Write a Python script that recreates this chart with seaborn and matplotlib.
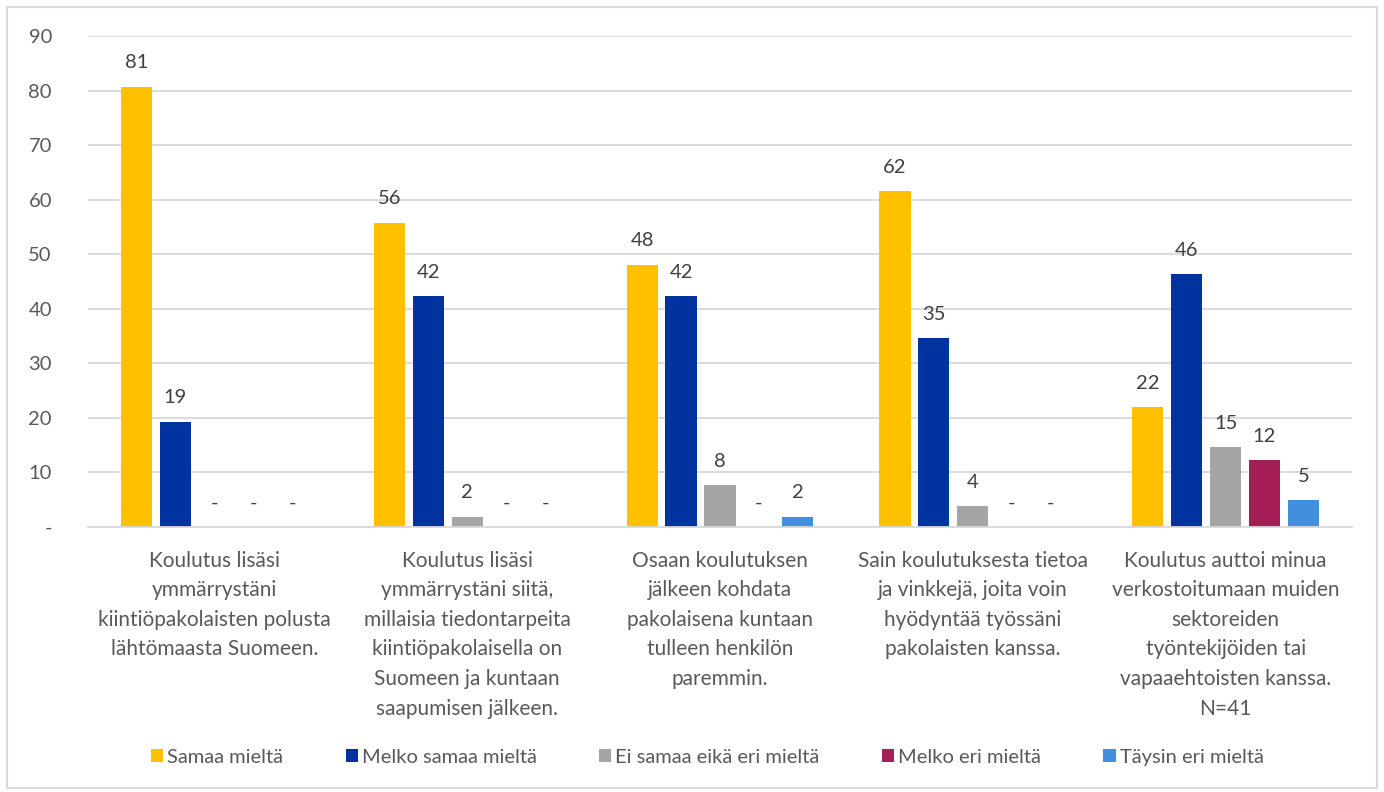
import matplotlib
matplotlib.use("Agg")
import matplotlib.pyplot as plt
import seaborn as sns
import pandas as pd
from matplotlib.patches import Rectangle

categories = [
    "Koulutus lisäsi\nymmärrystäni\nkiintiöpakolaisten polusta\nlähtömaasta Suomeen.",
    "Koulutus lisäsi\nymmärrystäni siitä,\nmillaisia tiedontarpeita\nkiintiöpakolaisella on\nSuomeen ja kuntaan\nsaapumisen jälkeen.",
    "Osaan koulutuksen\njälkeen kohdata\npakolaisena kuntaan\ntulleen henkilön\nparemmin.",
    "Sain koulutuksesta tietoa\nja vinkkejä, joita voin\nhyödyntää työssäni\npakolaisten kanssa.",
    "Koulutus auttoi minua\nverkostoitumaan muiden\nsektoreiden\ntyöntekijöiden tai\nvapaaehtoisten kanssa.\nN=41",
]
series_names = ["Samaa mieltä", "Melko samaa mieltä", "Ei samaa eikä eri mieltä",
                "Melko eri mieltä", "Täysin eri mieltä"]
samaa = [80.7, 55.8, 48.1, 61.5, 22.0]
melko_samaa = [19.3, 42.3, 42.3, 34.6, 46.3]
ei_samaa = [0, 1.9, 7.7, 3.8, 14.6]
melko_eri = [0, 0, 0, 0, 12.2]
taysin_eri = [0, 0, 1.9, 0, 4.9]
values = [samaa, melko_samaa, ei_samaa, melko_eri, taysin_eri]
colors = ["#FFC000", "#0033A0", "#A5A5A5", "#A51E56", "#4190DF"]
yticks = [0, 10, 20, 30, 40, 50, 60, 70, 80, 90]
ytick_labels = ["-"] + [str(t) for t in yticks[1:]]

rows = []
for s, vals in zip(series_names, values):
    for c, v in zip(categories, vals):
        rows.append({"category": c, "series": s, "value": v})
df = pd.DataFrame(rows)

sns.set_theme(style="white")
plt.rcParams["font.family"] = ["Lato", "DejaVu Sans"]

fig = plt.figure(figsize=(13.84, 7.92), dpi=100)
ax = fig.add_axes([88/1384, 1-527/792, (1352-88)/1384, (527-36)/792])

sns.barplot(data=df, x="category", y="value", hue="series", order=categories,
            hue_order=series_names, palette=colors, width=0.77, gap=0.2,
            ax=ax, saturation=1, edgecolor="none", legend=True)

ax.set_ylim(0, 90)
ax.set_yticks(yticks)
ax.set_yticklabels(ytick_labels, color="#595959", fontsize=14.5)
ax.yaxis.grid(True, color="#D9D9D9", linewidth=1.3)
ax.set_axisbelow(True)
for sp in ["left", "right", "top"]:
    ax.spines[sp].set_visible(False)
ax.spines["bottom"].set_color("#D9D9D9")
ax.spines["bottom"].set_linewidth(1.3)
ax.tick_params(axis="y", length=0, pad=26)
ax.tick_params(axis="x", length=0, pad=17)
for lab in ax.get_xticklabels():
    lab.set_color("#595959")
    lab.set_fontsize(15)
    lab.set_linespacing(1.6)
    lab.set_ha("center")
ax.set_xlabel("")
ax.set_ylabel("")

for cont in ax.containers:
    labs = [f"{b.get_height():.0f}" if b.get_height() > 0 else "-" for b in cont]
    ax.bar_label(cont, labels=labs, padding=11, color="#404040", fontsize=14.5)

leg = ax.legend(loc="upper center", bbox_to_anchor=(0.49, -0.415), ncol=5, frameon=False,
                fontsize=14.5, handlelength=0.6, handleheight=0.6, handletextpad=0.2,
                columnspacing=3.1, labelcolor="#595959")

fig.patches.append(Rectangle((7/1384, 4/792), 1370/1384, 781/792, transform=fig.transFigure,
                             fill=False, edgecolor="#D9D9D9", linewidth=1.5))

fig.savefig("out.png", dpi=100)
